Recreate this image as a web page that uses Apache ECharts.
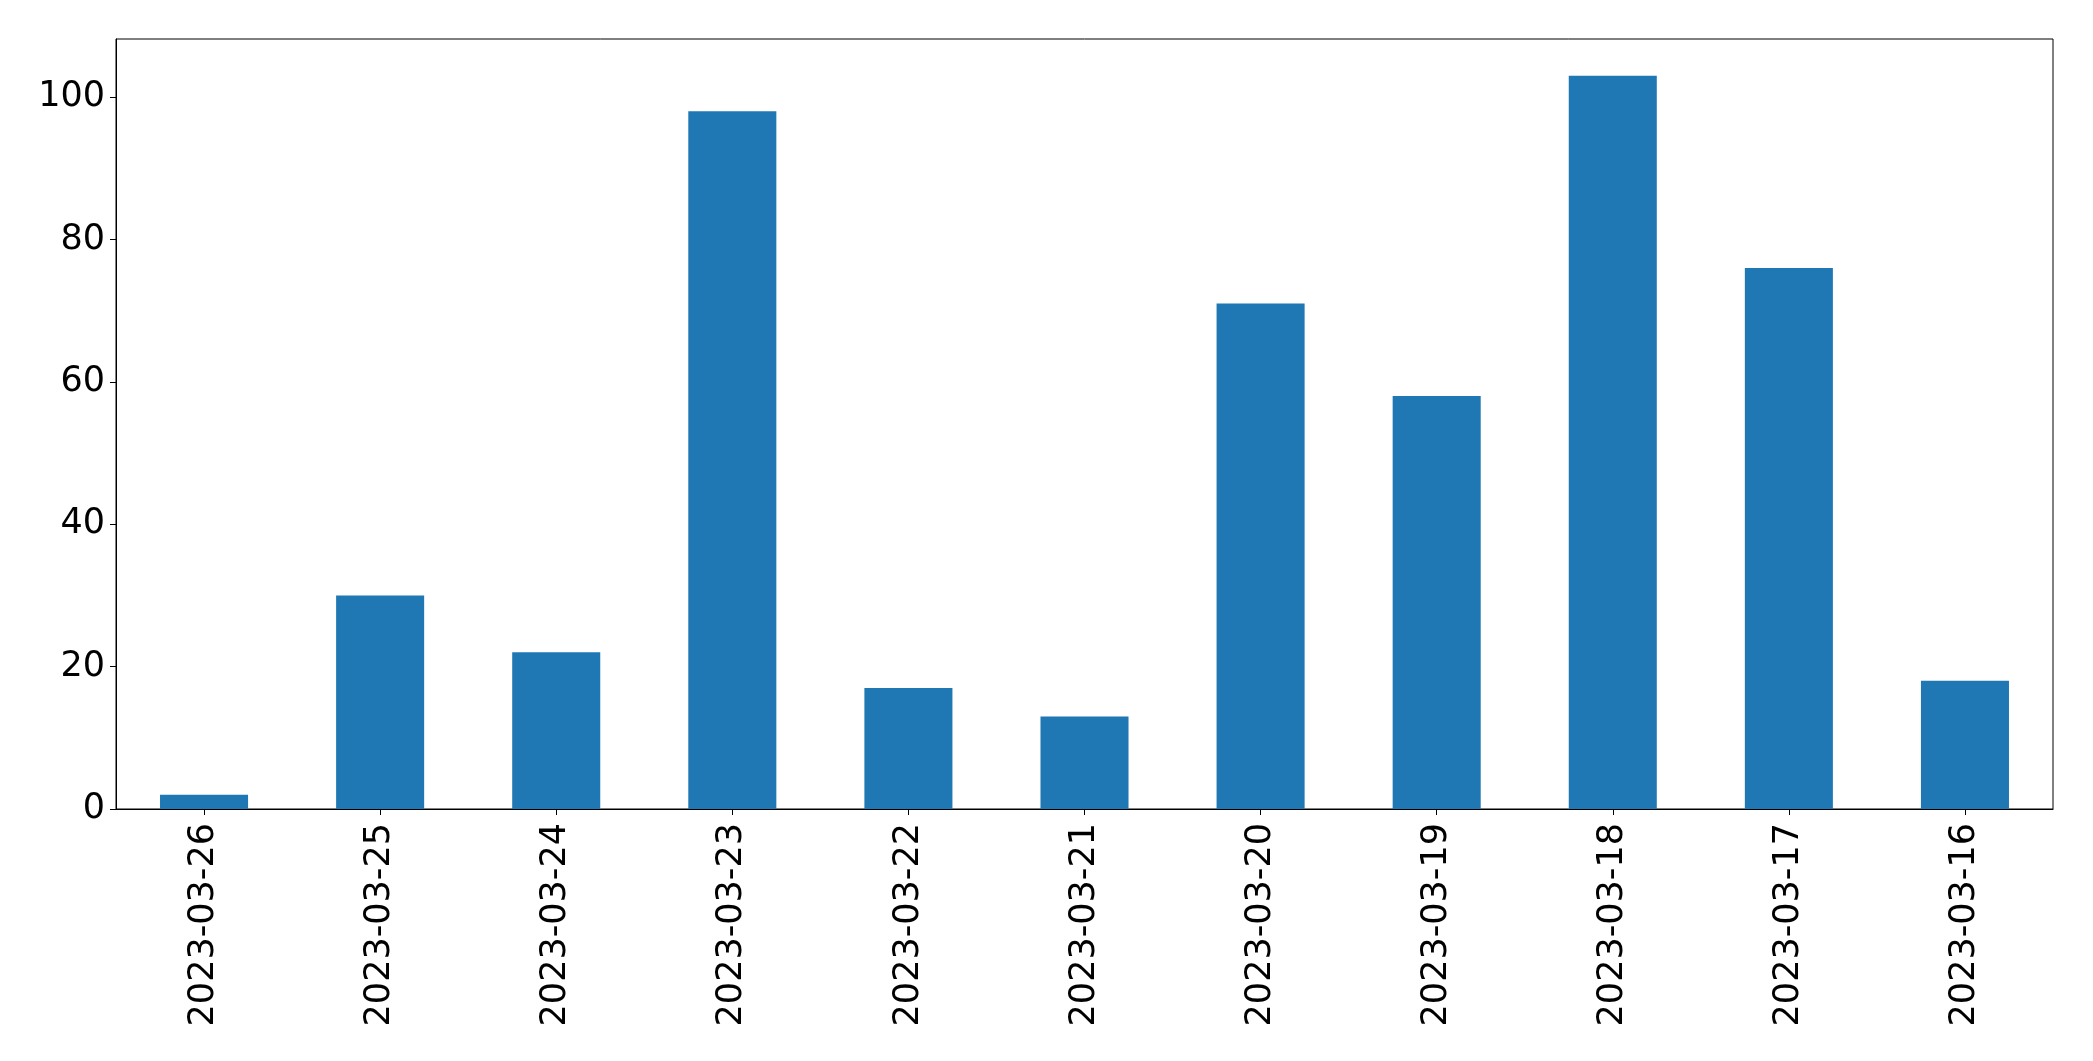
<!DOCTYPE html>
<html>
<head>
<meta charset="utf-8">
<script src="https://cdn.jsdelivr.net/npm/echarts@6/dist/echarts.min.js"></script>
<style>html,body{margin:0;padding:0;background:#fff;}#c{width:2093px;height:1061px;}</style>
</head>
<body>
<div id="c"></div>
<script>
const categories = ["2023-03-26","2023-03-25","2023-03-24","2023-03-23","2023-03-22","2023-03-21","2023-03-20","2023-03-19","2023-03-18","2023-03-17","2023-03-16"];
const values = [2, 30, 22, 98, 17, 13, 71, 58, 103, 76, 18];
const yTicks = [0, 20, 40, 60, 80, 100];
const yMax = 108.15;

const chart = echarts.init(document.getElementById('c'), null, {renderer: 'canvas'});
const font = 'DejaVu Sans';
chart.setOption({
  animation: false,
  backgroundColor: '#ffffff',
  grid: {left: 116, top: 39, right: 40, bottom: 252, show: true, borderColor: '#000', borderWidth: 1, backgroundColor: 'transparent'},
  xAxis: {
    type: 'category',
    data: categories,
    axisLine: {show: true, lineStyle: {color: '#000', width: 1}},
    axisTick: {show: true, alignWithLabel: true, length: 6, lineStyle: {color: '#000', width: 1}},
    axisLabel: {rotate: 90, color: '#000', fontSize: 35, fontFamily: font, margin: 14, interval: 0},
    splitLine: {show: false}
  },
  yAxis: {
    type: 'value',
    min: 0,
    max: yMax,
    interval: 20,
    axisLine: {show: true, lineStyle: {color: '#000', width: 1}},
    axisTick: {show: true, length: 6, lineStyle: {color: '#000', width: 1}, customValues: yTicks},
    axisLabel: {color: '#000', fontSize: 35, fontFamily: font, margin: 11, customValues: yTicks},
    splitLine: {show: false}
  },
  series: [{
    type: 'bar',
    data: values,
    barWidth: '50%',
    itemStyle: {color: '#1f77b4'}
  }]
});
</script>
</body>
</html>
